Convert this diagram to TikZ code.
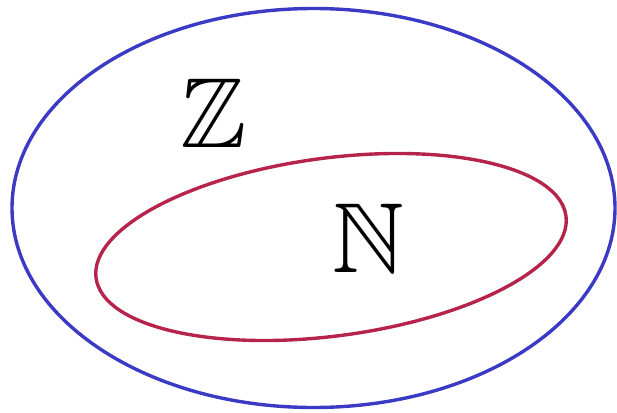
\documentclass[tikz,border=0pt]{standalone}
\usepackage{amssymb}
\definecolor{setblue}{RGB}{58,58,196}
\definecolor{setred}{RGB}{182,36,76}
\tikzset{
  setline/.style={line width=3.4pt},
  setlabel/.style={inner sep=0pt, scale=4, font=\Huge},
}
\begin{document}
\begin{tikzpicture}[x=1pt,y=-1pt]
\useasboundingbox (0,0) rectangle (617,412);
\draw[setline, setblue] (313.5,208) ellipse [x radius=301.5, y radius=199.5];
\draw[setline, setred, rotate around={7.5:(331,247)}] (331,247) ellipse [x radius=237, y radius=89];
\node[setlabel] (Z) at (214,113) {$\mathbb{Z}$};
\node[setlabel] (N) at (368,238) {$\mathbb{N}$};
\end{tikzpicture}
\end{document}
